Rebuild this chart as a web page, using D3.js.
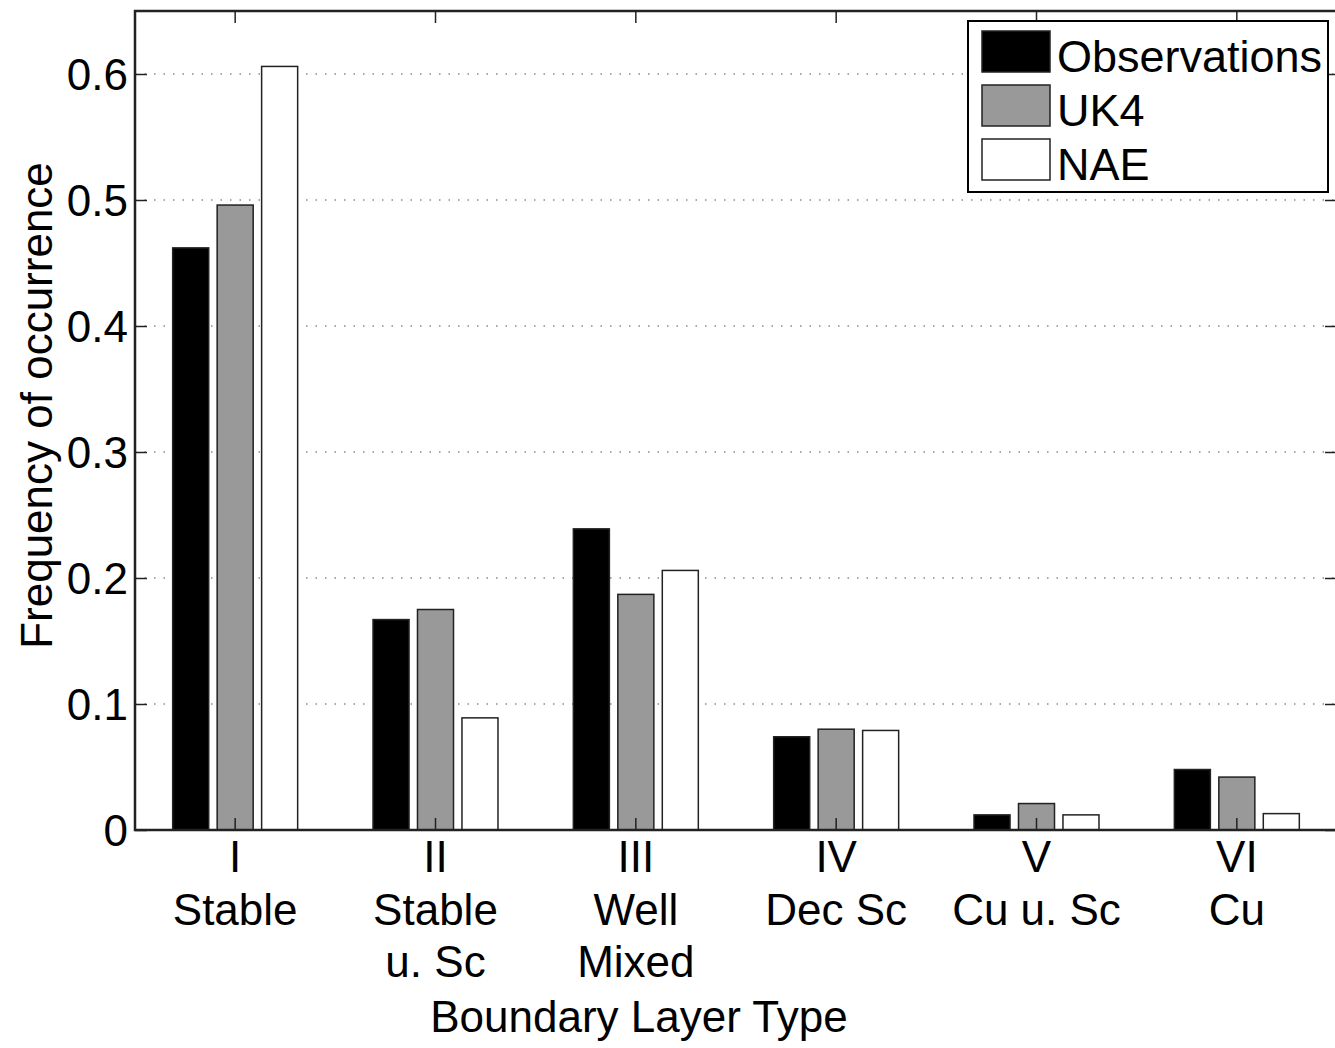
<!DOCTYPE html>
<html>
<head>
<meta charset="utf-8">
<script src="https://cdn.jsdelivr.net/npm/d3@7"></script>
<style>
  body { margin: 0; background: #fff; }
  text { font-family: "Liberation Sans", Arial, sans-serif; fill: #000; }
</style>
</head>
<body>
<div id="chart"></div>
<script>
const categories = ['I', 'II', 'III', 'IV', 'V', 'VI'];
const categoryNames = [['Stable'], ['Stable', 'u. Sc'], ['Well', 'Mixed'], ['Dec Sc'], ['Cu u. Sc'], ['Cu']];
const seriesNames = ['Observations', 'UK4', 'NAE'];
const observations = [0.462, 0.167, 0.239, 0.074, 0.012, 0.048];
const uk4 = [0.496, 0.175, 0.187, 0.080, 0.021, 0.042];
const nae = [0.606, 0.089, 0.206, 0.079, 0.012, 0.013];
const yTicks = [0, 0.1, 0.2, 0.3, 0.4, 0.5, 0.6];

const seriesValues = [observations, uk4, nae];
const seriesFill = ['#000000', '#999999', '#ffffff'];

const width = 1335, height = 1048;
const margin = { left: 135, right: -2, top: 11, bottom: 218 };
const fontSize = 44;

const svg = d3.select('#chart').append('svg')
  .attr('width', width)
  .attr('height', height);

const x0 = d3.scaleBand()
  .domain(categories)
  .range([margin.left, width - margin.right])
  .padding(0);

const groupWidth = x0.bandwidth() * 0.666;
const x1 = d3.scaleBand()
  .domain(seriesNames)
  .range([(x0.bandwidth() - groupWidth) / 2, (x0.bandwidth() + groupWidth) / 2])
  .paddingInner(0.19)
  .paddingOuter(0.095);

const y = d3.scaleLinear()
  .domain([0, 0.65])
  .range([height - margin.bottom, margin.top]);

const plotLeft = margin.left, plotRight = width - margin.right;
const plotTop = margin.top, plotBottom = height - margin.bottom;

// dotted grid
svg.append('g')
  .selectAll('line')
  .data(yTicks.filter(d => d > 0))
  .enter().append('line')
  .attr('x1', plotLeft).attr('x2', plotRight)
  .attr('y1', d => y(d)).attr('y2', d => y(d))
  .attr('stroke', '#8a8a8a')
  .attr('stroke-width', 1.5)
  .attr('stroke-dasharray', '1.5,8');

// bars
const groups = svg.append('g')
  .selectAll('g')
  .data(categories)
  .enter().append('g')
  .attr('transform', d => `translate(${x0(d)},0)`);

groups.selectAll('rect')
  .data((c, i) => seriesNames.map((s, j) => ({ s: s, j: j, v: seriesValues[j][i] })))
  .enter().append('rect')
  .attr('x', d => x1(d.s))
  .attr('width', x1.bandwidth())
  .attr('y', d => y(d.v))
  .attr('height', d => y(0) - y(d.v))
  .attr('fill', d => seriesFill[d.j])
  .attr('stroke', '#222')
  .attr('stroke-width', 1.5);

// axes box
const axisColor = '#222';
const tickLen = 12;

const yLeft = svg.append('g')
  .attr('transform', `translate(${plotLeft},0)`)
  .call(d3.axisLeft(y).tickValues(yTicks).tickSize(-tickLen).tickPadding(7).tickFormat(d3.format('')));
const yRight = svg.append('g')
  .attr('transform', `translate(${plotRight},0)`)
  .call(d3.axisRight(y).tickValues(yTicks).tickSize(-tickLen).tickFormat(''));
const xBottom = svg.append('g')
  .attr('transform', `translate(0,${plotBottom})`)
  .call(d3.axisBottom(x0).tickSize(-tickLen).tickFormat(''));
const xTop = svg.append('g')
  .attr('transform', `translate(0,${plotTop})`)
  .call(d3.axisTop(x0).tickSize(-tickLen).tickFormat(''));

[yLeft, yRight, xBottom, xTop].forEach(g => {
  g.select('.domain').remove();
  g.selectAll('.tick line').attr('stroke', axisColor).attr('stroke-width', 1.5);
});

yLeft.selectAll('.tick text')
  .style('font-size', fontSize + 'px')
  .style('font-family', '"Liberation Sans", Arial, sans-serif')
  .attr('fill', '#000')
  .attr('dy', '0.36em');

svg.append('rect')
  .attr('x', plotLeft).attr('y', plotTop)
  .attr('width', plotRight - plotLeft).attr('height', plotBottom - plotTop)
  .attr('fill', 'none')
  .attr('stroke', axisColor)
  .attr('stroke-width', 2.5);

// category labels
const catLabels = svg.append('g')
  .selectAll('text')
  .data(categories)
  .enter().append('text')
  .attr('x', d => x0(d) + x0.bandwidth() / 2)
  .attr('y', plotBottom + 42)
  .attr('text-anchor', 'middle')
  .style('font-size', fontSize + 'px');

catLabels.each(function (d, i) {
  const t = d3.select(this);
  [d].concat(categoryNames[i]).forEach((line, k) => {
    t.append('tspan')
      .attr('x', x0(d) + x0.bandwidth() / 2)
      .attr('dy', k === 0 ? 0 : 52.5)
      .text(line);
  });
});

// axis titles
svg.append('text')
  .attr('x', 639)
  .attr('y', 1032)
  .attr('text-anchor', 'middle')
  .style('font-size', fontSize + 'px')
  .text('Boundary Layer Type');

svg.append('text')
  .attr('transform', `translate(52,${(plotTop + plotBottom) / 2 - 15}) rotate(-90)`)
  .attr('text-anchor', 'middle')
  .style('font-size', fontSize + 'px')
  .text('Frequency of occurrence');

// legend
const legend = svg.append('g').attr('transform', 'translate(968,21)');
legend.append('rect')
  .attr('width', 360).attr('height', 171)
  .attr('fill', '#fff')
  .attr('stroke', '#000')
  .attr('stroke-width', 2);

const items = legend.selectAll('g.item')
  .data(seriesNames)
  .enter().append('g')
  .attr('class', 'item')
  .attr('transform', (d, i) => `translate(14,${10 + i * 54})`);

items.append('rect')
  .attr('width', 68).attr('height', 41)
  .attr('fill', (d, i) => seriesFill[i])
  .attr('stroke', '#222')
  .attr('stroke-width', 1.5);

items.append('text')
  .attr('x', 75)
  .attr('y', 41)
  .style('font-size', '45px')
  .text(d => d);
</script>
</body>
</html>
